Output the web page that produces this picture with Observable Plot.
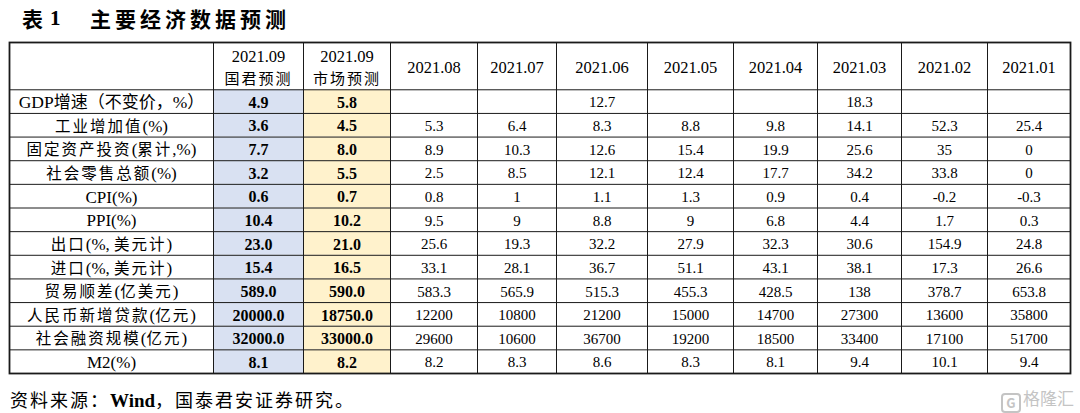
<!DOCTYPE html>
<html>
<head>
<meta charset="utf-8">
<script src="https://cdn.jsdelivr.net/npm/d3@7"></script>
<script src="https://cdn.jsdelivr.net/npm/@observablehq/plot@0.6"></script>
<style>
  html, body { margin: 0; padding: 0; background: #fff; }
  body { width: 1080px; height: 413px; overflow: hidden; position: relative; color: #000; }
  #title { position: absolute; left: 22px; top: 0; height: 37px; line-height: 37px; font-family: "Noto Sans CJK SC", sans-serif; font-weight: 700; font-size: 21px; white-space: nowrap; }
  #title .no { font-family: "Liberation Serif", serif; font-weight: 700; position: absolute; left: 28px; }
  #title .main { position: absolute; left: 68px; letter-spacing: 4px; }
  #chart { position: absolute; left: 0; top: 37px; }
  #caption { position: absolute; left: 10px; top: 386px; line-height: 26px; font-family: "Noto Sans CJK SC", sans-serif; font-size: 18px; letter-spacing: 2px; white-space: nowrap; }
  #caption b { font-family: "Liberation Serif", serif; letter-spacing: 0; font-size: 19px; }
  #mark { position: absolute; right: 6px; top: 387px; line-height: 22px; font-family: "Noto Sans CJK SC", sans-serif; font-size: 17px; color: #c4c4c4; white-space: nowrap; }
  #mark .ico { display: inline-block; width: 16px; height: 16px; line-height: 16px; border: 2px solid #c4c4c4; border-radius: 4px; font-size: 13px; text-align: center; font-weight: 700; margin-right: 2px; vertical-align: -3px; }
  g[aria-description="subhead"] text { letter-spacing: 2px; }
</style>
</head>
<body>
<div id="title"></div>
<div id="chart"></div>
<div id="caption"></div>
<div id="mark"><span class="ico">G</span>格隆汇</div>
<script>
// ---------- data ----------
const tableNo = "表";
const tableNum = "1";
const tableTitle = "主要经济数据预测";
const sourceLabel = "资料来源：";
const sourceWind = "Wind";
const sourceRest = "，国泰君安证券研究。";

const indicators = [
  "GDP增速（不变价，%）",
  "工业增加值(%)",
  "固定资产投资(累计,%)",
  "社会零售总额(%)",
  "CPI(%)",
  "PPI(%)",
  "出口(%, 美元计)",
  "进口(%, 美元计)",
  "贸易顺差(亿美元)",
  "人民币新增贷款(亿元)",
  "社会融资规模(亿元)",
  "M2(%)"
];

const forecastDate = "2021.09";
const forecastNames = ["国君预测", "市场预测"];
const guojunForecast = [4.9, 3.6, 7.7, 3.2, 0.6, 10.4, 23.0, 15.4, 589.0, 20000.0, 32000.0, 8.1];
const marketForecast = [5.8, 4.5, 8.0, 5.5, 0.7, 10.2, 21.0, 16.5, 590.0, 18750.0, 33000.0, 8.2];

const months = ["2021.08", "2021.07", "2021.06", "2021.05", "2021.04", "2021.03", "2021.02", "2021.01"];
const gdpGrowth    = [null, null, 12.7, null, null, 18.3, null, null];
const industrial   = [5.3, 6.4, 8.3, 8.8, 9.8, 14.1, 52.3, 25.4];
const fixedInvest  = [8.9, 10.3, 12.6, 15.4, 19.9, 25.6, 35, 0];
const retailSales  = [2.5, 8.5, 12.1, 12.4, 17.7, 34.2, 33.8, 0];
const cpi          = [0.8, 1, 1.1, 1.3, 0.9, 0.4, -0.2, -0.3];
const ppi          = [9.5, 9, 8.8, 9, 6.8, 4.4, 1.7, 0.3];
const exportsYoY   = [25.6, 19.3, 32.2, 27.9, 32.3, 30.6, 154.9, 24.8];
const importsYoY   = [33.1, 28.1, 36.7, 51.1, 43.1, 38.1, 17.3, 26.6];
const tradeBalance = [583.3, 565.9, 515.3, 455.3, 428.5, 138, 378.7, 653.8];
const newLoans     = [12200, 10800, 21200, 15000, 14700, 27300, 13600, 35800];
const socialFin    = [29600, 10600, 36700, 19200, 18500, 33400, 17100, 51700];
const m2           = [8.2, 8.3, 8.6, 8.3, 8.1, 9.4, 10.1, 9.4];

const monthRows = [gdpGrowth, industrial, fixedInvest, retailSales, cpi, ppi, exportsYoY, importsYoY, tradeBalance, newLoans, socialFin, m2];

// ---------- layout (kept apart from data) ----------
const colWidths = [204, 90, 87, 87, 79, 91, 86, 84, 84, 86, 83];
const edges = Array.from(d3.cumsum([0, ...colWidths]));
const totalW = edges[edges.length - 1];
const cx = i => (edges[i] + edges[i + 1]) / 2;
const headUnits = 2;
const totalH = headUnits + indicators.length;
const forecastFill = ["#D9E1F2", "#FFF2CC"];
const numFont = "Liberation Serif, serif";
const cjkFont = "Liberation Serif, Noto Sans CJK SC, sans-serif";

// ---------- text outside the svg ----------
document.getElementById("title").innerHTML =
  `<span>${tableNo}</span><span class="no">${tableNum}</span><span class="main">${tableTitle}</span>`;
document.getElementById("caption").innerHTML =
  `${sourceLabel}<b>${sourceWind}</b>${sourceRest}`;

// ---------- derived tables ----------
const fmt1 = d3.format(".1f");
const forecastCells = indicators.flatMap((_, i) => [
  {col: 1, k: 0, row: i, v: guojunForecast[i]},
  {col: 2, k: 1, row: i, v: marketForecast[i]}
]);
const valueCells = monthRows.flatMap((r, i) =>
  r.map((v, j) => ({col: 3 + j, row: i, v}))).filter(d => d.v != null);
const labelCells = indicators.map((t, i) => ({row: i, t}));
const dateHeads = forecastNames.map((n, j) => ({col: 1 + j, t: forecastDate}));
const subHeads = forecastNames.map((n, j) => ({col: 1 + j, t: n}));
const monthHeads = months.map((m, j) => ({col: 3 + j, t: m}));
const rowY = d => headUnits + d.row + 0.5;

const plot = Plot.plot({
  width: 1080,
  height: 338,
  marginLeft: 9,
  marginRight: 10,
  marginTop: 5,
  marginBottom: 2,
  x: {domain: [0, totalW], axis: null},
  y: {domain: [0, totalH], range: [5, 336], axis: null},
  style: {background: "#fff"},
  marks: [
    Plot.rect(forecastCells, {
      x1: d => edges[d.col], x2: d => edges[d.col + 1],
      y1: d => headUnits + d.row, y2: d => headUnits + d.row + 1,
      fill: d => forecastFill[d.k], inset: 0
    }),
    Plot.ruleY(d3.range(headUnits, totalH), {x1: 0, x2: totalW, stroke: "#1a1a1a", strokeWidth: 1}),
    Plot.ruleX(edges.slice(1, -1), {y1: 0, y2: totalH, stroke: "#1a1a1a", strokeWidth: 1}),
    Plot.frame({stroke: "#1a1a1a", strokeWidth: 1.8}),
    // header
    Plot.text(dateHeads, {x: d => cx(d.col), y: 0.6, text: "t", fontFamily: numFont, fontSize: 16.5, fill: "#000"}),
    Plot.text(subHeads, {x: d => cx(d.col), y: 1.56, text: "t", fontFamily: cjkFont, fontSize: 15, fill: "#000", ariaDescription: "subhead"}),
    Plot.text(monthHeads, {x: d => cx(d.col), y: 1.07, text: "t", fontFamily: numFont, fontSize: 16.5, fill: "#000"}),
    // row labels
    Plot.text(labelCells.slice(0, 1), {x: cx(0), y: rowY, dy: 1, text: "t", fontFamily: cjkFont, fontSize: 17.5, fill: "#000", ariaDescription: "gdplabel"}),
    Plot.text(labelCells.slice(1), {x: cx(0), y: rowY, dy: 1, text: "t", fontFamily: cjkFont, fontSize: 17, fill: "#000", ariaDescription: "rowlabel"}),
    // forecasts
    Plot.text(forecastCells, {x: d => cx(d.col), y: rowY, dy: 1, text: d => fmt1(d.v), fontFamily: numFont, fontWeight: "bold", fontSize: 16, fill: "#000"}),
    // monthly values
    Plot.text(valueCells, {x: d => cx(d.col), y: rowY, dy: 1, text: d => String(d.v), fontFamily: numFont, fontSize: 15, fill: "#000"})
  ]
});

// CJK runs in the row labels get their own size and spacing (like the source's Song face)
const cjkRe = /[\u3000-\u9fff\uff00-\uffef]+|[^\u3000-\u9fff\uff00-\uffef]+/g;
function splitRuns(sel, cjkSize, cjkSpacing) {
  d3.select(plot).selectAll(sel).each(function () {
    const s = this.textContent;
    this.textContent = "";
    for (const run of s.match(cjkRe)) {
      const isCjk = /[\u3000-\u9fff\uff00-\uffef]/.test(run);
      const ts = d3.select(this).append("tspan").text(run);
      if (isCjk) ts.attr("font-size", cjkSize).attr("letter-spacing", cjkSpacing);
    }
  });
}
splitRuns('g[aria-description="rowlabel"] text', 15.5, 2);
splitRuns('g[aria-description="gdplabel"] text', 17, 0);

document.getElementById("chart").append(plot);
</script>
</body>
</html>
